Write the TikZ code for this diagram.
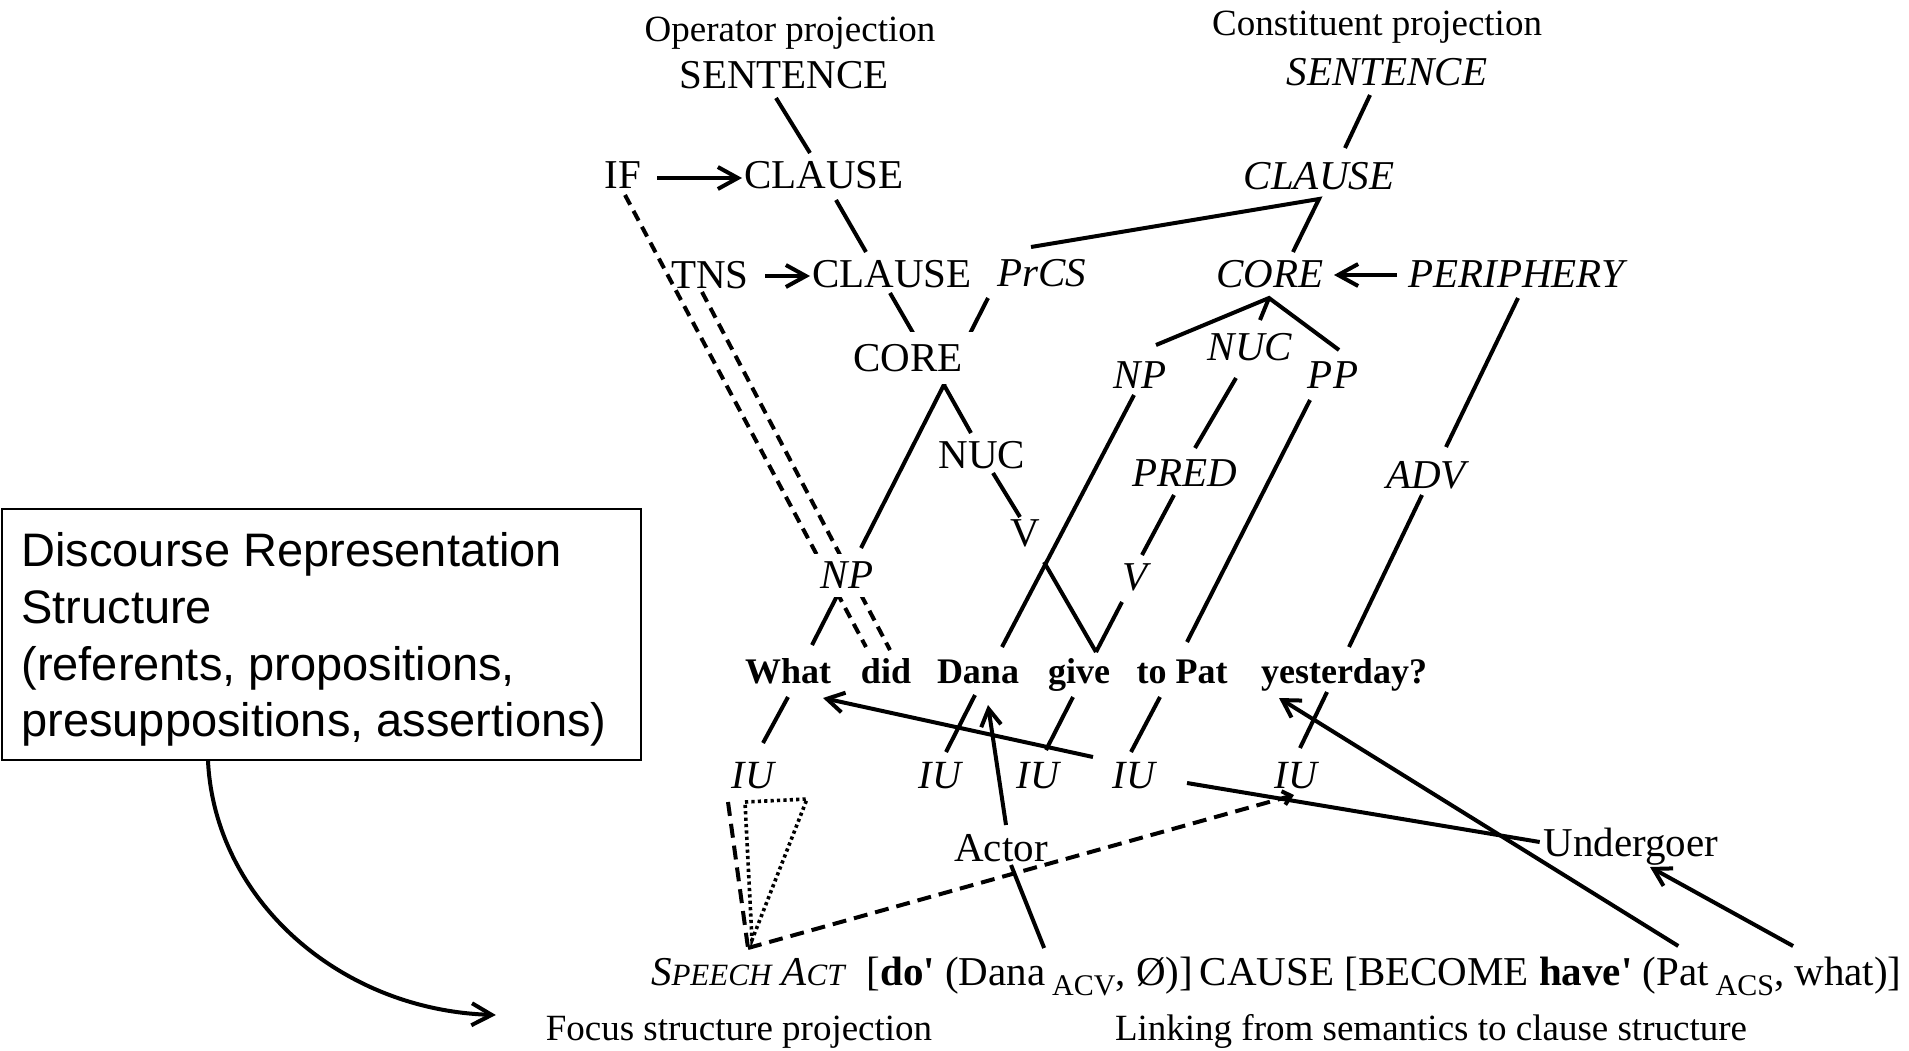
\documentclass[tikz,border=0pt]{standalone}
\usepackage{fontspec}
\setmainfont{Liberation Serif}
\newfontfamily\drsfont{Liberation Sans}
\usetikzlibrary{arrows.meta,calc}
\pgfdeclarelayer{bg}
\pgfsetlayers{bg,main}
% fake small capitals and lowered role subscripts
\newcommand{\fsc}[1]{{\fontsize{15.5}{16}\selectfont #1}}
\newcommand{\sbs}[1]{\raisebox{-5pt}{\fontsize{15}{16}\selectfont #1}}

\tikzset{
  lab/.style={inner sep=0pt, outer sep=0pt, text height=13.5pt, text depth=0pt,
              font=\fontsize{20.5}{24}\selectfont},
  ilab/.style={lab, font=\fontsize{20.5}{24}\selectfont\itshape},
  iu/.style={lab, text height=13.2pt, font=\fontsize{20}{24}\selectfont\itshape},
  word/.style={lab, text height=12.2pt, font=\fontsize{18}{22}\selectfont\bfseries},
  ttl/.style={inner sep=0pt, outer sep=0pt, anchor=base, font=\fontsize{18.5}{22}\selectfont},
  form/.style={lab, anchor=base west},
  mask/.style={fill=white},
  link/.style={line width=2pt},
  oparrow/.style={link, -{Straight Barb[length=10pt,width=11pt]}},
  lkarrow/.style={link, -{Straight Barb[length=8.5pt,width=10pt]}},
  opdash/.style={link, dash pattern=on 5.5pt off 3.5pt},
  fsdash/.style={link, dash pattern=on 7pt off 4pt},
  fsdot/.style={line width=1.8pt, dash pattern=on 1.6pt off 1.6pt},
}

\begin{document}
\begin{tikzpicture}[x=0.5pt, y=-0.5pt]
\useasboundingbox (0,0) rectangle (1909,1050);

% ---------- operator projection ----------
\node[ttl] (opTitle) at (790,41) {Operator projection};
\node[lab] (opS)   at (784,75)  {SENTENCE};
\node[lab] (IF)    at (623,175) {IF};
\node[lab] (opC1)  at (824,175) {CLAUSE};
\node[lab] (TNS)   at (710,275) {TNS};
\node[lab] (opC2)  at (892,274) {CLAUSE};
\node[lab, mask, minimum width=65pt, minimum height=26pt] (opCore) at (908,358) {CORE};
\node[lab] (opNuc) at (982,455) {NUC};
\node[lab] (opV)   at (1025,533) {V};

% ---------- constituent projection ----------
\node[ttl] (coTitle) at (1377,35) {Constituent projection};
\node[ilab] (coS)    at (1387,72)  {SENTENCE};
\node[ilab] (coC)    at (1319,176) {CLAUSE};
\node[ilab] (PrCS)   at (1042,273) {PrCS};
\node[ilab] (coCore) at (1270,274) {CORE};
\node[ilab] (Periph) at (1516,274) {PERIPHERY};
\node[ilab] (coNP)   at (1140,375) {NP};
\node[ilab] (coNuc)  at (1250,347) {NUC};
\node[ilab] (PP)     at (1333,375) {PP};
\node[ilab] (PRED)   at (1185,473) {PRED};
\node[ilab] (ADV)    at (1426,475) {ADV};
\node[ilab] (coV)    at (1135,577) {V};
\node[ilab, mask, inner sep=4pt] (NPw) at (847,575) {NP};

% ---------- the sentence ----------
\node[word] (What)  at (788,671)  {What};
\node[word] (did)   at (886,671)  {did};
\node[word] (Dana)  at (978,671)  {Dana};
\node[word] (give)  at (1079,671) {give};
\node[word] (toPat) at (1182,671) {to Pat};
\node[word] (yest)  at (1344,671) {yesterday?};

% ---------- focus structure ----------
\node[iu] (IUa) at (753,775)  {IU};
\node[iu] (IUb) at (940,775)  {IU};
\node[iu] (IUc) at (1038,775) {IU};
\node[iu] (IUd) at (1134,775) {IU};
\node[iu] (IUe) at (1296,775) {IU};

\node[lab] (Actor)     at (1001,848) {Actor};
\node[lab] (Undergoer) at (1631,843) {Undergoer};

% ---------- logical structure ----------
\node[form] (fSA)   at (651,985) {\itshape S\fsc{PEECH} A\fsc{CT}};
\node[form] (fDo)   at ($(fSA.base east)+(22,0)$) {[\textbf{do\textquotesingle} (};
\node[form] (fDana) at (fDo.base east) {Dana\,\sbs{ACV}};
\node[form] (fMid)  at (fDana.base east) {, Ø)]\,CAUSE [BECOME \textbf{have\textquotesingle} (};
\node[form] (fPat)  at (fMid.base east) {Pat\,\sbs{ACS}};
\node[form] (fWhat) at (fPat.base east) {, what)]};
\coordinate (apex) at (748,948);

\node[ttl] (fsTitle) at (739,1040) {Focus structure projection};
\node[ttl] (lkTitle) at (1431,1040) {Linking from semantics to clause structure};

% ---------- discourse box ----------
\node[draw, line width=1pt, inner sep=0pt, minimum width=319.5pt, minimum height=125.5pt,
      anchor=north west] (drs) at (1,508) {};
\node[inner sep=0pt, anchor=north west, align=left,
      font=\drsfont\fontsize{23.5}{28.4}\selectfont] (drsText) at (21,532)
  {Discourse Representation\\Structure\\(referents, propositions,\\presuppositions, assertions)};

\begin{pgfonlayer}{bg}
% operator projection
\draw[link] ($(opS)+(-8,23)$) -- ($(opC1)+(-14,-22)$);
\draw[link] ($(opC1)+(12,25)$) -- ($(opC2)+(-26,-22)$);
\draw[link] ($(opC2)+(-2,19)$) -- ($(opCore)+(8,-20)$);
\draw[link] ($(opCore)+(36,27)$) -- ($(opNuc)+(-11,-22)$);
\draw[link] ($(opNuc)+(11,18)$) -- ($(opV)+(-5,-16)$);
\draw[link] ($(opV)+(19,29)$) -- ($(give)+(17,-19)$);
\draw[oparrow] ($(IF)+(34,3)$) -- ($(opC1)+(-82,3)$);
\draw[oparrow] ($(TNS)+(55,1)$) -- ($(opC2)+(-82,2)$);
\draw[opdash] ($(IF)+(2,20)$) -- ($(did)+(-20,-24)$);
\draw[opdash] ($(TNS)+(-8,17)$) -- ($(did)+(4,-21)$);

% constituent projection
\draw[link] ($(coS)+(-17,23)$) -- ($(coC)+(26,-28)$);
\draw[link] ($(PrCS)+(-11,-26)$) -- ($(coC)+(0,23)$) -- ($(coCore)+(23,-22)$);
\draw[link] ($(coNP)+(16,-30)$) -- ($(coCore)+(-1,24)$) -- ($(PP)+(6,-25)$);
\draw[link] ($(coCore)+(-1,24)$) -- ($(coNuc)+(10,-27)$);
\draw[oparrow] ($(Periph)+(-119,1)$) -- ($(coCore)+(64,1)$);
\draw[link] ($(PrCS)+(-54,25)$) -- ($(NPw)+(14,-27)$);
\draw[link] ($(NPw)+(-8,17)$) -- ($(What)+(24,-26)$);
\draw[link] ($(coNuc)+(-14,31)$) -- ($(PRED)+(10,-25)$);
\draw[link] ($(PRED)+(-11,22)$) -- ($(coV)+(7,-22)$);
\draw[link] ($(coV)+(-13,25)$) -- ($(give)+(17,-19)$);
\draw[link] ($(coNP)+(-6,20)$) -- ($(Dana)+(24,-24)$);
\draw[link] ($(PP)+(-23,25)$) -- ($(toPat)+(5,-29)$);
\draw[link] ($(Periph)+(2,24)$) -- ($(ADV)+(20,-28)$);
\draw[link] ($(ADV)+(-4,20)$) -- ($(yest)+(5,-24)$);

% focus structure
\draw[link] ($(IUa)+(10,-32)$) -- ($(What)+(0,26)$);
\draw[link] ($(IUb)+(6,-23)$) -- ($(Dana)+(-3,24)$);
\draw[link] ($(IUc)+(8,-25)$) -- ($(give)+(-6,26)$);
\draw[link] ($(IUd)+(-3,-23)$) -- ($(toPat)+(-22,26)$);
\draw[link] ($(IUe)+(4,-27)$) -- ($(yest)+(-17,21)$);
\draw[fsdash] ($(IUa)+(-25,27)$) -- (apex);
\draw[fsdash, -{Straight Barb[length=4pt,width=7pt]}] (apex) -- ($(IUe)+(-2,20)$);
\draw[fsdot] ($(IUa)+(-8,27)$) -- ($(IUa)+(54,24)$) -- ($(apex)+(4,-8)$) -- cycle;

% linking
\draw[lkarrow] ($(IUd)+(-41,-18)$) -- ($(What)+(35,27)$);
\draw[lkarrow] ($(Actor)+(5,-23)$) -- ($(Dana)+(10,34)$);
\draw[link] ($(fDana.north)+(7,-10)$) -- ($(Actor)+(10,17)$);
\draw[link] ($(IUd)+(53,8)$) -- ($(Undergoer.west)+(-4,-1)$);
\draw[lkarrow] ($(fPat.north)+(-37,-12)$) -- ($(yest)+(-65,27)$);
\draw[lkarrow] ($(fWhat.north west)+(19,-12)$) -- ($(Undergoer)+(19,24)$);

% discourse representation feeds focus structure
\draw[link, -{Straight Barb[length=10pt,width=11pt]}]
  ($(drs.south west)+(207,0)$) .. controls (215,900) and (340,1010) .. ($(fsTitle.base west)+(-50,-25)$);
\end{pgfonlayer}
\end{tikzpicture}
\end{document}
